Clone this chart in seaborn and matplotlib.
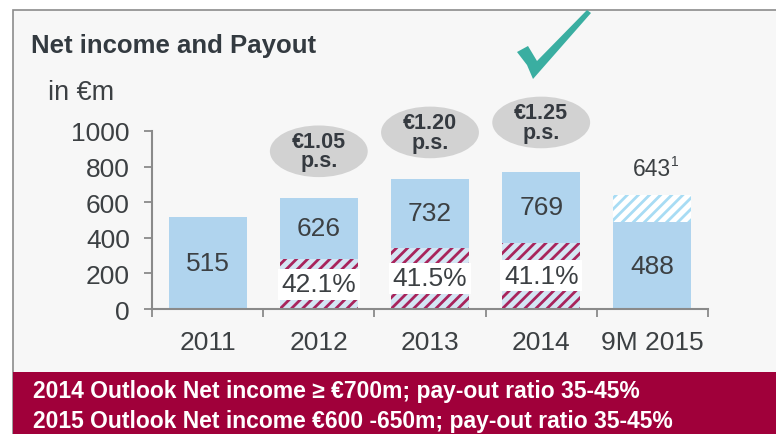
import matplotlib
matplotlib.use("Agg")
import matplotlib.pyplot as plt
import seaborn as sns
import pandas as pd
from matplotlib.patches import Rectangle, Ellipse, Polygon

categories = ["2011", "2012", "2013", "2014", "9M 2015"]
net_income = [515, 626, 732, 769, 488]
payout_amount = [0, 279, 345, 373, 0]
payout_labels = ["", "42.1%", "41.5%", "41.1%", ""]
forecast_total = [0, 0, 0, 0, 643]
dps_labels = ["", "€1.05\np.s.", "€1.20\np.s.", "€1.25\np.s.", ""]
dps_y = [0, 886, 992, 1048, 0]
yticks = [0, 200, 400, 600, 800, 1000]

sns.set_theme(style="white")
plt.rcParams["font.family"] = ["Liberation Sans", "DejaVu Sans"]
plt.rcParams["hatch.linewidth"] = 2.0

W, H = 776, 435
fig = plt.figure(figsize=(W / 100, H / 100), dpi=100, facecolor="white")

def fx(px):
    return px / W

def fy(py):
    return 1 - py / H

# panel background
fig.patches.append(Rectangle((fx(13), 0), 1, fy(11), transform=fig.transFigure,
                             facecolor="#f7f7f7", edgecolor="#8c8c8c", lw=1.2, zorder=-2))
# crimson band
fig.patches.append(Rectangle((fx(13), 0), 1, fy(373), transform=fig.transFigure,
                             facecolor="#a0003a", edgecolor="none", zorder=-1))

ax = fig.add_axes([fx(152), fy(310), fx(708) - fx(152), fy(132) - fy(310)])
ax.set_facecolor("none")
ax.set_zorder(2)

BLUE = "#b0d4ee"
TXT = "#3c4043"

df_fc = pd.DataFrame({"cat": categories, "v": forecast_total})
df_ni = pd.DataFrame({"cat": categories, "v": net_income})
df_po = pd.DataFrame({"cat": categories, "v": payout_amount})

sns.barplot(data=df_fc, x="cat", y="v", order=categories, ax=ax, color="white",
            width=0.7, saturation=1, errorbar=None, linewidth=0, zorder=2)
n0 = len(ax.patches)
for p in ax.patches[:n0]:
    p.set_facecolor("white")
    p.set_hatch("///")
    p.set_edgecolor("#a8dcf4")
    p.set_linewidth(0)

sns.barplot(data=df_ni, x="cat", y="v", order=categories, ax=ax, color=BLUE,
            width=0.7, saturation=1, errorbar=None, linewidth=0, zorder=3)
n1 = len(ax.patches)

sns.barplot(data=df_po, x="cat", y="v", order=categories, ax=ax, color="#d4e6f4",
            width=0.7, saturation=1, errorbar=None, linewidth=0, zorder=4)
for p in ax.patches[n1:]:
    p.set_facecolor("#d4e6f4")
    p.set_hatch("///")
    p.set_edgecolor("#a8245c")
    p.set_linewidth(0)

# labels
for i, cat in enumerate(categories):
    lo = payout_amount[i]
    ax.text(i, (lo + net_income[i]) / 2, str(net_income[i]), ha="center", va="center",
            fontsize=19, color=TXT, zorder=6)
    if payout_labels[i]:
        ax.text(i, lo / 2, payout_labels[i], ha="center", va="center", fontsize=19,
                color=TXT, zorder=6,
                bbox=dict(boxstyle="square,pad=0.13", facecolor="white", edgecolor="none"))
    if dps_labels[i]:
        e = Ellipse((i, dps_y[i]), 0.88, 290, facecolor="#d2d2d2", edgecolor="none",
                    clip_on=False, zorder=5)
        ax.add_patch(e)
        ax.text(i, dps_y[i], dps_labels[i], ha="center", va="center", fontsize=15.5,
                fontweight="bold", color="#353a40", linespacing=0.9, zorder=6,
                clip_on=False)
    if forecast_total[i]:
        ax.text(i, forecast_total[i] + 82, f"{forecast_total[i]}", ha="center",
                va="bottom", fontsize=16.5, color=TXT, zorder=6, clip_on=False)
        ax.text(i + 0.165, forecast_total[i] + 150, "1", ha="left", va="bottom",
                fontsize=10, color=TXT, zorder=6, clip_on=False)

ax.set_xlim(-0.5, 4.5)
ax.set_ylim(0, 1000)
ax.set_xlabel("")
ax.set_ylabel("")
ax.set_yticks(yticks)
ax.set_yticklabels([str(t) for t in yticks], fontsize=19, color=TXT)
ax.set_xticks([-0.5, 0.5, 1.5, 2.5, 3.5, 4.5])
ax.set_xticklabels([])
ax.set_xticks(range(len(categories)), minor=True)
ax.set_xticklabels(categories, minor=True, fontsize=19, color=TXT)
ax.tick_params(axis="x", which="major", direction="out", length=6, width=1.3,
               color="#8a8a8a", bottom=True)
ax.tick_params(axis="x", which="minor", length=0, pad=15, bottom=True)
ax.tick_params(axis="y", direction="out", length=6, width=1.3, color="#8a8a8a",
               left=True, pad=10)
for s in ["top", "right"]:
    ax.spines[s].set_visible(False)
for s in ["left", "bottom"]:
    ax.spines[s].set_color("#8a8a8a")
    ax.spines[s].set_linewidth(1.5)
    ax.spines[s].set_zorder(7)

# titles
fig.text(fx(31), fy(46), "Net income and Payout", fontsize=18.5, fontweight="bold",
         color="#333a40", va="center", ha="left")
fig.text(fx(48), fy(93), "in €m", fontsize=19.5, color=TXT, va="center", ha="left")

# check mark
chk = [(517, 53), (528, 47), (537, 62), (587, 11), (591, 14), (533, 80), (527, 66)]
fig.patches.append(Polygon([(fx(x), fy(y)) for x, y in chk], closed=True,
                           transform=fig.transFigure, facecolor="#3aaea1",
                           edgecolor="none", zorder=8))

# outlook band
fig.text(fx(33), fy(392), "2014 Outlook Net income ≥ €700m; pay-out ratio 35-45%",
         fontsize=16.5, fontweight="bold", color="white", va="center", ha="left",
         zorder=9)
fig.text(fx(33), fy(422), "2015 Outlook Net income €600 -650m; pay-out ratio 35-45%",
         fontsize=16.5, fontweight="bold", color="white", va="center", ha="left",
         zorder=9)

fig.savefig("out.png", dpi=100, facecolor="white")
